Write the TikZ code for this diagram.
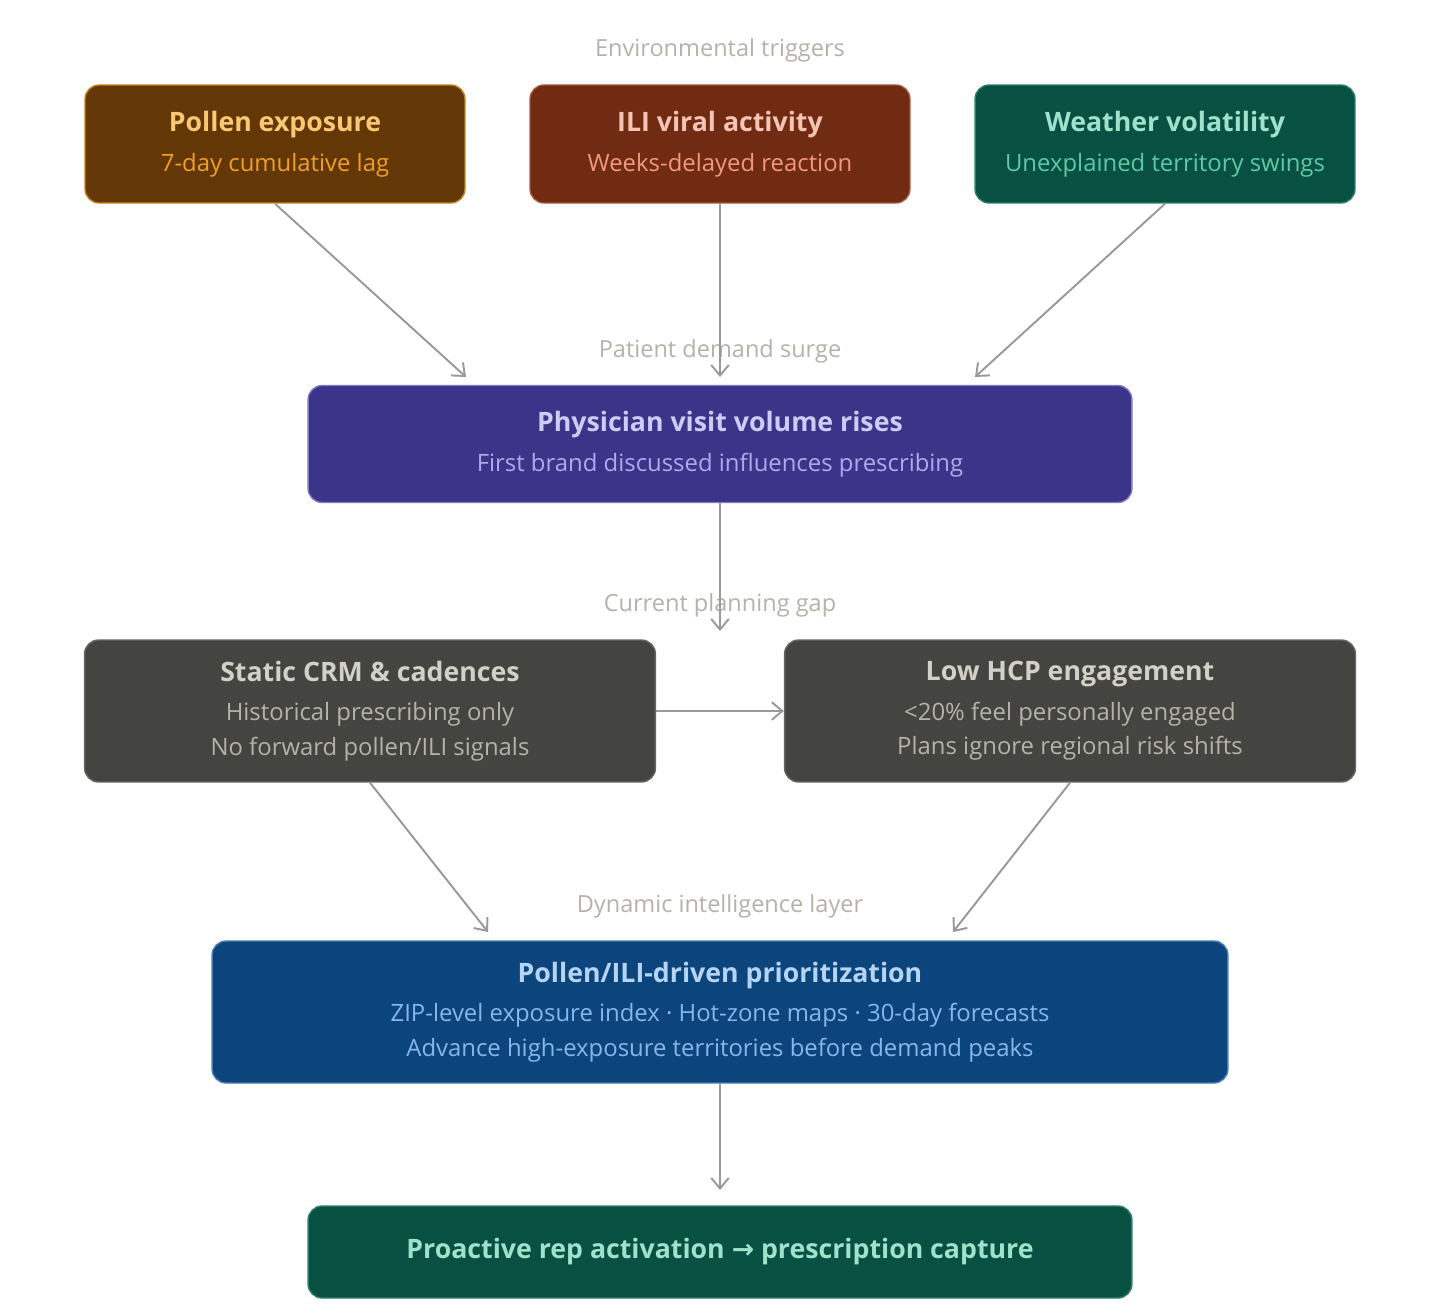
\documentclass[tikz,border=0pt]{standalone}
\usepackage{fontspec}
\setmainfont{Open Sans}
\newfontfamily\symfont{DejaVu Sans}
\usetikzlibrary{arrows.meta}
\definecolor{pollenfill}{HTML}{633806}\definecolor{pollentop}{HTML}{FAC775}\definecolor{pollensub}{HTML}{EF9F27}
\definecolor{ilifill}{HTML}{712B13}\definecolor{ilitop}{HTML}{F5C4B3}\definecolor{ilisub}{HTML}{F0997B}
\definecolor{tealfill}{HTML}{085041}\definecolor{tealtop}{HTML}{9FE1CB}\definecolor{tealsub}{HTML}{5DCAA5}
\definecolor{purpfill}{HTML}{3C3489}\definecolor{purptop}{HTML}{CECBF6}\definecolor{purpsub}{HTML}{AFA9EC}
\definecolor{grayfill}{HTML}{444441}\definecolor{graytop}{HTML}{D3D1C7}\definecolor{graysub}{HTML}{B4B2A9}
\definecolor{bluefill}{HTML}{0C447C}\definecolor{bluetop}{HTML}{B5D4F4}\definecolor{bluesub}{HTML}{85B7EB}
\definecolor{linkgray}{HTML}{999999}
\newcommand{\boxtext}[3]{{\fontsize{15.2}{19.5}\selectfont\bfseries\color{#1top}#2}\\[3pt]#3}
\tikzset{
  card/.style={rounded corners=8pt, align=center, inner sep=0pt, line width=0.8pt,
    fill=#1fill, text=#1sub, font=\fontsize{13.6}{19.5}\selectfont},
  layer/.style={text=graysub, font=\fontsize{13.4}{15}\selectfont},
  link/.style={draw=linkgray, line width=1.1pt, -{Straight Barb[length=6pt,width=10pt]}}
}
\begin{document}
\begin{tikzpicture}[x=0.02cm,y=-0.02cm]
\useasboundingbox[fill=white] (0,0) rectangle (1440,1312);
% environmental triggers
\node[layer] (lenv) at (720,50) {Environmental triggers};
\node[card=pollen, draw=pollensub!70!pollenfill, minimum width=7.6cm, minimum height=2.36cm] (pollen) at (275,144)
  {\boxtext{pollen}{Pollen exposure}{7-day cumulative lag}};
\node[card=ili, draw=ilisub!40!ilifill, minimum width=7.6cm, minimum height=2.36cm] (ili) at (720,144)
  {\boxtext{ili}{ILI viral activity}{Weeks-delayed reaction}};
\node[card=teal, draw=tealsub!40!tealfill, minimum width=7.6cm, minimum height=2.36cm] (weather) at (1165,144)
  {\boxtext{teal}{Weather volatility}{Unexplained territory swings}};
% patient demand
\node[layer] (ldemand) at (720,351) {Patient demand surge};
\node[card=purp, draw=purpsub!60!purpfill, minimum width=16.48cm, minimum height=2.34cm] (visit) at (720,444)
  {\boxtext{purp}{Physician visit volume rises}{First brand discussed influences prescribing}};
% planning gap
\node[layer] (lgap) at (720,605) {Current planning gap};
\node[card=gray, draw=graysub!30!grayfill, minimum width=11.42cm, minimum height=2.84cm] (crm) at (370,711)
  {\boxtext{gray}{Static CRM \& cadences}{Historical prescribing only\\No forward pollen/ILI signals}};
\node[card=gray, draw=graysub!30!grayfill, minimum width=11.42cm, minimum height=2.84cm] (hcp) at (1070,711)
  {\boxtext{gray}{Low HCP engagement}{<20\% feel personally engaged\\Plans ignore regional risk shifts}};
% intelligence layer
\node[layer] (lintel) at (720,906) {Dynamic intelligence layer};
\node[card=blue, draw=bluesub!50!bluefill, minimum width=20.32cm, minimum height=2.84cm] (prior) at (720,1012)
  {\boxtext{blue}{Pollen/ILI-driven prioritization}{ZIP-level exposure index · Hot-zone maps · 30-day forecasts\\Advance high-exposure territories before demand peaks}};
\node[card=teal, draw=tealsub!40!tealfill, minimum width=16.48cm, minimum height=1.84cm, font=\fontsize{15.2}{19}\selectfont\bfseries, text=tealtop] (rep) at (720,1252)
  {Proactive rep activation {\symfont →} prescription capture};
% links
\coordinate (a1) at (466,377); \coordinate (a2) at (720,377); \coordinate (a3) at (975,377);
\coordinate (a4) at (720,631); \coordinate (a5) at (488,932); \coordinate (a6) at (953,932);
\coordinate (a7) at (720,1190);
\draw[link] (pollen.south) -- (a1);
\draw[link] (ili.south) -- (a2);
\draw[link] (weather.south) -- (a3);
\draw[link] (visit.south) -- (a4);
\draw[link] (crm.east) -- (hcp.west);
\draw[link] (crm.south) -- (a5);
\draw[link] (hcp.south) -- (a6);
\draw[link] (prior.south) -- (a7);
\end{tikzpicture}
\end{document}
